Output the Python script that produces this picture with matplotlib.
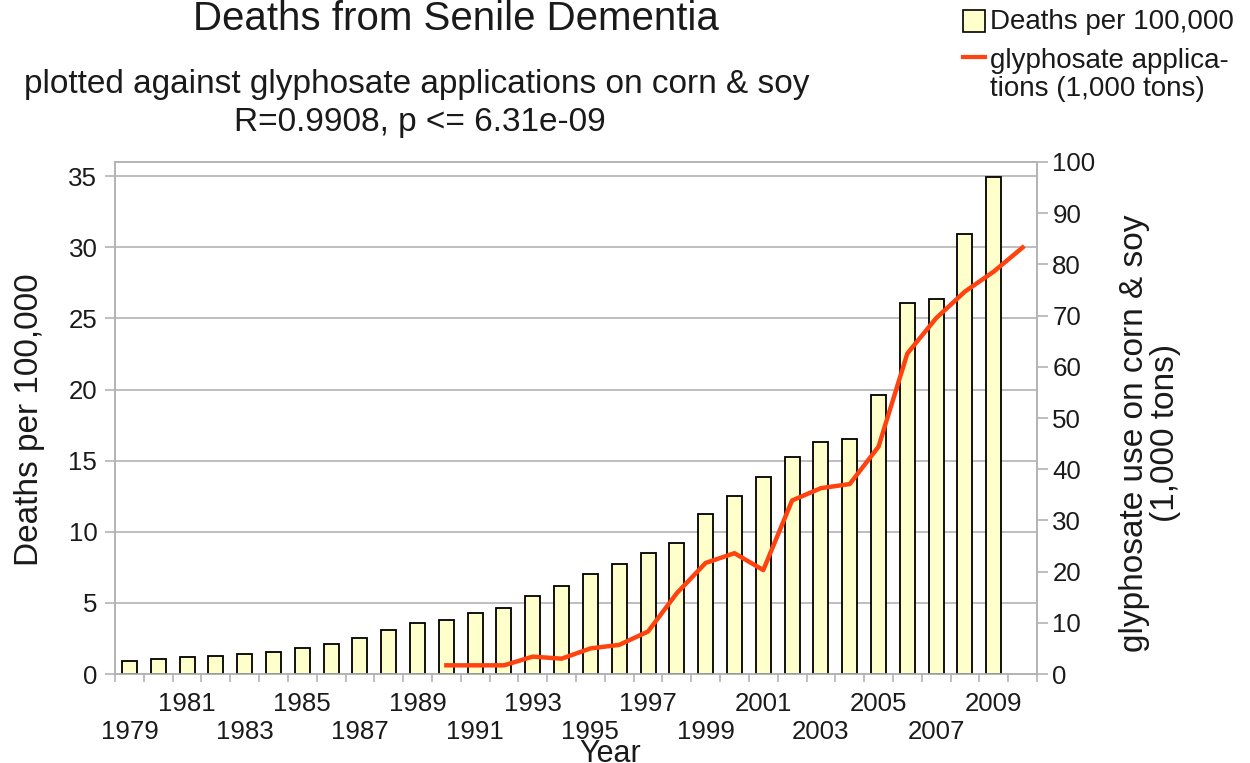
import matplotlib
matplotlib.use('Agg')
import matplotlib.pyplot as plt
from matplotlib.patches import Rectangle
from matplotlib.lines import Line2D

plt.rcParams['font.family'] = ['Liberation Sans', 'DejaVu Sans']

# deaths from senile dementia per 100,000 (bars)
years = list(range(1979, 2010))
deaths = [0.94, 1.05, 1.17, 1.29, 1.38, 1.52, 1.85, 2.08, 2.53, 3.09,
          3.58, 3.79, 4.29, 4.62, 5.52, 6.21, 7.03, 7.71, 8.48, 9.18,
          11.24, 12.51, 13.87, 15.25, 16.30, 16.51, 19.6, 26.12, 26.35, 30.94,
          34.95]

# glyphosate applications on corn & soy, 1,000 tons (line)
gly_years = list(range(1990, 2011))
glyphosate = [1.7, 1.7, 1.7, 3.4, 3.0, 5.0, 5.7, 8.3, 15.8, 21.7,
              23.6, 20.3, 33.9, 36.3, 37.1, 44.4, 62.6, 69.5, 74.7, 78.6,
              83.3]

label_years = list(range(1979, 2010, 2))

grey = '#b3b3b3'
txt = '#1a1a1a'

fig = plt.figure(figsize=(12.5, 7.63), dpi=100)
ax = fig.add_axes([0.092, 0.1166, 0.7376, 0.6711])
ax2 = ax.twinx()

ax.bar(years, deaths, width=0.52, color='#ffffcc', edgecolor='black', linewidth=1.3, zorder=3)
ax2.plot(gly_years, glyphosate, color='#ff420e', linewidth=3.2, zorder=4)

ax.set_xlim(1978.5, 2010.5)
ax.set_ylim(0, 36)
ax2.set_ylim(0, 100)
ax.set_yticks(range(0, 36, 5))
ax2.set_yticks(range(0, 101, 10))

# boundaries get tick marks, labels sit on the bar centers in two rows
ax.set_xticks([y - 0.5 for y in range(1979, 2012)])
ax.set_xticklabels([])
ax.set_xticks(label_years, minor=True)
ax.set_xticklabels([('\n' if i % 2 == 0 else '') + str(y) for i, y in enumerate(label_years)],
                   minor=True)
ax.tick_params(axis='x', which='minor', length=0, pad=13, labelsize=18.6, labelcolor=txt)
ax.tick_params(axis='x', which='major', length=5.5, color=grey, width=1.2)
ax.tick_params(axis='y', length=7.2, color=grey, width=1.2, labelsize=18.6, labelcolor=txt, pad=5.5)
ax2.tick_params(axis='y', length=8, color=grey, width=1.2, labelsize=18.6, labelcolor=txt, pad=3)

ax.yaxis.grid(True, color=grey, linewidth=1.2, zorder=0)
ax.set_axisbelow(True)
for a in (ax, ax2):
    for s in a.spines.values():
        s.set_color(grey)
        s.set_linewidth(1.2)

# axis titles
fig.text(0.024, 0.4495, 'Deaths per 100,000', rotation=90, ha='center', va='center',
         fontsize=24, color=txt)
fig.text(0.92, 0.4325, 'glyphosate use on corn & soy\n(1,000 tons)', rotation=90,
         ha='center', va='center', fontsize=24, color=txt, linespacing=1.0)
fig.text(0.488, 0.0015, 'Year', ha='center', va='baseline', fontsize=22, color=txt)

fig.text(0.365, 0.975, 'Deaths from Senile Dementia', ha='center', va='center', fontsize=29, color=txt)
fig.text(0.333, 0.889, 'plotted against glyphosate applications on corn & soy',
         ha='center', va='center', fontsize=24, color=txt)
fig.text(0.336, 0.840, 'R=0.9908, p <= 6.31e-09', ha='center', va='center', fontsize=24, color=txt)

# legend drawn by hand to keep the line sample next to the first text line
fig.patches.append(Rectangle((0.7704, 0.958), 0.0176, 0.0288, transform=fig.transFigure,
                             facecolor='#ffffcc', edgecolor='black', linewidth=1.2))
fig.text(0.792, 0.971, 'Deaths per 100,000', va='center', fontsize=20, color=txt)
fig.lines.append(Line2D([0.7704, 0.788], [0.925, 0.925], transform=fig.transFigure,
                        color='#ff420e', linewidth=3))
fig.text(0.792, 0.902, 'glyphosate applica-\ntions (1,000 tons)', va='center', fontsize=20,
         color=txt, linespacing=1.1)

fig.savefig('out.png', dpi=100)
